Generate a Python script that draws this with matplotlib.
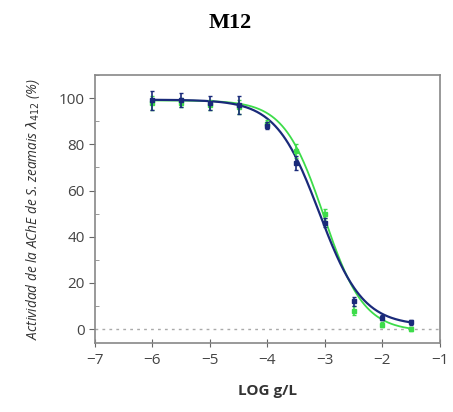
import numpy as np
import matplotlib
matplotlib.use("Agg")
import matplotlib.pyplot as plt
from matplotlib.ticker import MultipleLocator

# Concentrations (log g/L) and mean AChE activity (%)
log_conc = [-6.0, -5.5, -5.0, -4.5, -4.0, -3.5, -3.0, -2.5, -2.0, -1.5]
activity_navy = [99, 99, 98, 97, 88, 72, 46, 12, 5, 3]
err_navy = [4, 3, 3, 4, 1.5, 3, 2, 2, 1, 1]
activity_green = [98, 98, 97, 96, 89, 77, 50, 8, 2, 0]
err_green = [3, 2, 2, 3, 1.5, 3, 2, 2, 1, 1]

# Four-parameter logistic fit parameters: top, bottom, logIC50, hill slope
fit_navy = (99.3, 1.5, -3.1, 1.15)
fit_green = (99.0, -1.0, -3.02, 1.25)

navy = "#1a2a7a"
green = "#3ddc4a"


def logistic(x, top, bottom, logic50, hill):
    return bottom + (top - bottom) / (1 + 10 ** ((x - logic50) * hill))


fig = plt.figure(figsize=(4.53, 4.12), dpi=100)
ax = fig.add_axes([0.2097, 0.1675, 0.7616, 0.6505])

xs = np.linspace(-6.0, -1.5, 300)
ax.plot(xs, logistic(xs, *fit_green), color=green, lw=1.3, zorder=3)
ax.plot(xs, logistic(xs, *fit_navy), color=navy, lw=1.6, zorder=4)

ax.errorbar(log_conc, activity_green, yerr=err_green, fmt="s", ms=3,
            color=green, ecolor=green, elinewidth=1.2, capsize=1.5, zorder=5)
ax.errorbar(log_conc, activity_navy, yerr=err_navy, fmt="s", ms=3,
            color=navy, ecolor=navy, elinewidth=1.2, capsize=1.5, zorder=6)

ax.axhline(0, color="#aaaaaa", lw=1, ls=(0, (2, 3)), zorder=1)

ax.set_xlim(-7, -1)
ax.set_ylim(-6, 110)
ax.xaxis.set_major_locator(MultipleLocator(1))
ax.yaxis.set_major_locator(MultipleLocator(20))
ax.yaxis.set_minor_locator(MultipleLocator(10))
ax.set_yticks([0, 20, 40, 60, 80, 100])

for s in ax.spines.values():
    s.set_color("#888888")
    s.set_linewidth(1.2)

ax.tick_params(axis="x", which="major", direction="inout", length=6, color="#666666",
               labelsize=11, labelcolor="#444444", pad=4)
ax.tick_params(axis="y", which="major", direction="out", length=4, color="#666666",
               labelsize=11, labelcolor="#444444")
ax.tick_params(axis="y", which="minor", direction="in", length=3, color="#888888")

for lab in ax.get_xticklabels() + ax.get_yticklabels():
    lab.set_family("Open Sans")

ax.set_xlabel("LOG g/L", fontsize=11, fontweight="bold", family="Open Sans",
              color="#333333", labelpad=12)
ax.set_ylabel(r"Actividad de la AChE de S. zeamais $\lambda_{412}$ (%)", fontsize=9.8,
              fontstyle="italic", family="Open Sans", color="#333333", labelpad=12)

fig.text(0.508, 0.945, "M12", ha="center", va="center", fontsize=16,
         fontweight="bold", family="Liberation Serif")

fig.savefig("out.png", dpi=100)
